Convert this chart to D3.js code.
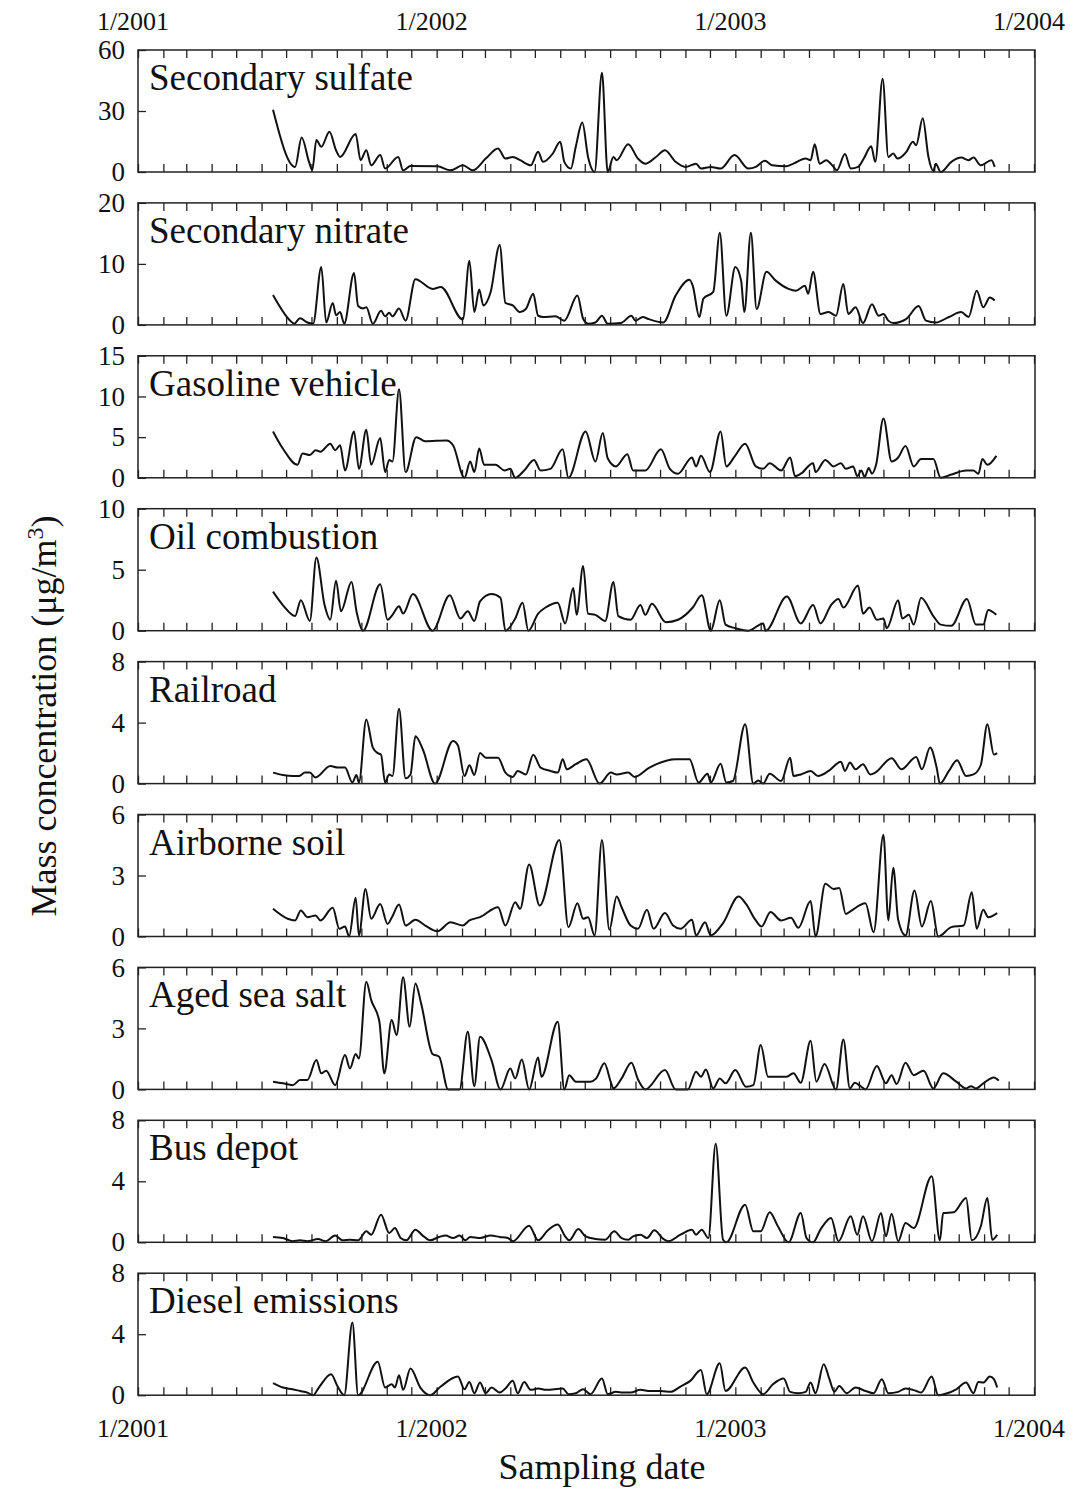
<!DOCTYPE html>
<html>
<head>
<meta charset="utf-8">
<script src="https://cdn.jsdelivr.net/npm/d3@7"></script>
<style>
  body { margin: 0; background: #fff; }
  text { font-family: "Liberation Serif", "Times New Roman", serif; fill: #111; }
</style>
</head>
<body>
<div id="root"></div>
<script>
// panel names and y-axis ticks (top to bottom)
let sourceNames = ["Secondary sulfate", "Secondary nitrate", "Gasoline vehicle", "Oil combustion",
  "Railroad", "Airborne soil", "Aged sea salt", "Bus depot", "Diesel emissions"];
let yTicks = [[0, 30, 60], [0, 10, 20], [0, 5, 10, 15], [0, 5, 10], [0, 4, 8],
  [0, 3, 6], [0, 3, 6], [0, 4, 8], [0, 4, 8]];

// samples: [days since 1/1/2001, concentration in ug/m3]
let sulfate = [[165,30.6],[192,2.5],[200,17],[209,5],[213,1],[218,15.7],[224,12.4],[234,19.8],[242,10.7],[247,7.4],[266,18.7],[272,5.8],[279,10.7],[285,3.3],[296,8.3],[302,1.7],[318,7.4],[324,0.8],[333,3],[366,2.8],[382,0.8],[397,3.3],[409,0.8],[425,6.6],[440,11.6],[449,6.6],[458,7.4],[467,5.8],[480,3.3],[489,9.9],[495,5],[507,9.1],[516,14.9],[521,5],[529,1.7],[535,12.4],[543,24.3],[550,7.4],[558,0],[567,48.8],[574,0],[581,7.4],[585,5.8],[599,13.7],[611,6.6],[620,4.1],[633,7.4],[644,10.7],[657,5],[669,2.5],[682,4.1],[688,1.7],[700,2.5],[712,1.7],[729,8.3],[746,1.7],[755,2.5],[766,5.5],[775,3.3],[792,2.8],[801,4.1],[816,6.6],[822,5.8],[827,13.6],[833,4.1],[841,5.8],[850,2.5],[854,0.8],[864,8.8],[871,1.7],[880,2.5],[887,6.6],[896,12.7],[901,5],[910,45.8],[917,7.4],[923,9.1],[928,6.6],[939,9.9],[947,14.9],[951,13.2],[959,26.4],[966,7.4],[972,0.5],[975,4.1],[981,0],[994,5],[1006,7.1],[1015,5.8],[1021,7.1],[1030,3.3],[1043,5.8],[1047,2.5]];

let nitrate = [[165,4.9],[186,0.7],[191,0.2],[198,1.1],[207,0.4],[214,0.2],[224,9.5],[230,0.4],[238,3.6],[242,1.6],[247,2.1],[252,0.2],[264,8.5],[269,3.1],[275,2.7],[279,2.9],[287,0.2],[297,2.3],[302,1.4],[307,2],[311,1.4],[319,2.7],[327,0.7],[339,7.5],[360,5.9],[370,6.2],[397,0.9],[405,10.5],[411,2.1],[417,5.8],[422,3.2],[431,5.4],[442,13.1],[449,3.6],[458,3.2],[467,2.1],[474,2.6],[483,5.1],[489,1.5],[495,1.3],[510,1.4],[521,0.7],[537,4.8],[544,1],[550,0.2],[559,0.4],[567,1.5],[574,0.2],[590,0.3],[603,1.5],[608,0.7],[617,1.3],[623,1],[642,0.4],[657,4.8],[674,7.4],[678,6.4],[686,1.3],[691,4.3],[703,5.4],[711,15.1],[719,1.5],[730,9.5],[737,7.3],[741,2.1],[749,15.1],[756,2.6],[768,8.7],[779,7.3],[795,5.9],[804,5.6],[815,6.4],[819,5.1],[825,8.7],[834,1.8],[844,2.1],[853,1.5],[862,6.7],[868,1.8],[877,2.9],[886,0.3],[897,3.4],[905,1.5],[911,1.8],[917,0.7],[923,0.3],[939,1],[954,3.1],[963,0.7],[975,0.4],[991,1.3],[1006,2.1],[1015,1.3],[1025,5.6],[1033,2.9],[1041,4.5],[1047,4]];

let gasoline = [[165,5.7],[177,3.6],[195,1.6],[201,3],[210,2.8],[217,3.4],[223,3.2],[235,4.2],[241,3.4],[247,4],[253,0.9],[264,5.7],[270,1.1],[279,5.9],[285,1.6],[296,4.9],[302,0.7],[307,2.2],[311,2],[319,10.9],[327,0.7],[340,5],[351,4.5],[377,4.6],[385,4],[399,0],[406,2],[411,0.7],[417,3.6],[423,1.6],[437,1.6],[448,0.9],[455,1.1],[461,0],[472,0.9],[484,2.2],[492,0.9],[504,1.1],[519,3.5],[526,0],[547,5.7],[559,2],[568,5.5],[574,2.4],[584,1.4],[598,2.9],[605,0.9],[620,0.9],[639,3.5],[650,1.1],[660,0.5],[677,2.5],[682,1.4],[688,2.7],[699,0.7],[712,5.7],[719,1.4],[729,2.6],[742,4.2],[755,1.4],[764,1.1],[772,1.8],[786,0.9],[797,2.5],[803,0.2],[810,0.5],[825,1.8],[828,0.7],[840,2.2],[850,1.4],[859,1.8],[865,1.1],[874,1.4],[879,0.2],[884,0.9],[888,0.1],[893,1.2],[897,0.5],[902,1.6],[911,7.3],[921,2],[929,2.5],[938,3.9],[948,1.4],[957,2.3],[966,2.3],[972,2.3],[981,0],[994,0.4],[1012,0.9],[1021,0.9],[1027,0.5],[1032,2.3],[1038,1.6],[1049,2.7]];

let oil = [[165,3.2],[177,2.1],[192,1.2],[199,2.5],[210,0.8],[218,6],[228,2.1],[235,0.9],[242,4.1],[248,1.6],[261,4],[267,1.6],[275,0],[296,3.8],[305,0.9],[311,1.3],[319,2],[324,1.4],[336,3],[360,0],[381,2.9],[394,1],[403,1.6],[411,0.8],[418,2.4],[432,3],[443,2.7],[449,0],[461,1],[470,2.3],[477,0],[489,1.4],[498,1.9],[513,2.3],[522,0.6],[532,3.5],[536,1.3],[544,5.3],[550,1.4],[559,1.3],[571,0.8],[581,4],[587,1.2],[602,0.9],[614,2.1],[620,1.3],[628,2.2],[645,0.7],[660,0.9],[678,1.9],[689,2.9],[700,0],[711,2.5],[718,0.5],[730,0.2],[746,0],[764,0.6],[767,0],[793,2.8],[810,0.6],[825,2.1],[834,0.6],[847,2.1],[856,2.6],[862,1.9],[880,3.7],[886,1.4],[894,1.9],[903,0.9],[911,1],[915,0.2],[929,2.5],[934,1],[942,1.3],[948,0.5],[957,2.7],[972,1.2],[981,0.5],[994,0.4],[1013,2.6],[1024,0.5],[1033,0.5],[1039,1.7],[1049,1.3]];

let railroad = [[165,0.72],[177,0.57],[189,0.5],[197,0.5],[204,0.72],[210,0.72],[217,0.4],[235,1.16],[244,1.05],[253,1.05],[262,0.07],[267,0.57],[270,0.07],[279,4.2],[287,2.36],[293,2],[297,1.9],[302,0.07],[307,0.6],[311,0.5],[319,4.9],[327,0.35],[333,0.6],[339,3.1],[348,2.25],[363,0],[385,2.8],[391,2.5],[399,0.5],[405,1.2],[411,0.57],[418,2],[425,1.7],[440,1.7],[449,0.72],[458,0.44],[464,0.83],[474,0.6],[483,1.9],[492,1.05],[504,0.83],[513,0.72],[519,1.6],[524,0.94],[535,1.27],[548,1.6],[564,0],[578,0.72],[585,0.6],[599,0.72],[607,0.44],[625,1.05],[657,1.6],[674,1.6],[685,0.07],[696,0.65],[700,0.07],[712,1.3],[719,0.07],[727,0.17],[742,3.9],[752,0],[758,0.2],[764,0],[772,0.65],[786,0.17],[797,1.7],[801,0.5],[810,0.6],[822,0.83],[831,0.5],[844,0.83],[859,1.44],[864,0.83],[870,1.38],[877,0.94],[886,1.27],[895,0.6],[901,0.72],[921,1.66],[933,0.94],[951,1.75],[958,0.94],[968,2.36],[976,1.05],[980,0],[991,0.83],[1001,1.53],[1012,0.5],[1021,0.6],[1030,1.22],[1038,3.9],[1046,1.9],[1050,2]];

let soil = [[165,1.36],[183,0.87],[192,0.79],[199,1.28],[207,0.95],[217,1.03],[223,0.79],[238,1.41],[246,0.38],[253,0.49],[258,0],[266,1.9],[270,0.05],[278,2.34],[285,0.87],[296,1.6],[305,0.62],[310,0.92],[319,1.57],[327,0.54],[339,0.82],[351,0.54],[366,0.26],[382,0.7],[397,0.54],[405,0.79],[418,0.95],[440,1.44],[449,0.54],[461,1.69],[467,1.36],[478,3.54],[491,1.52],[515,4.75],[526,0.46],[537,1.64],[544,0.87],[550,0.95],[558,0.05],[567,4.75],[576,0.33],[585,1.97],[591,1.44],[602,0.54],[611,0.38],[622,1.31],[630,0.38],[644,1.15],[654,0.54],[663,0.38],[677,0.82],[682,0.05],[693,0.7],[700,0.05],[715,0.66],[734,1.97],[743,1.6],[755,0.79],[762,0.49],[773,1.2],[786,0.79],[798,0.92],[807,0.43],[822,1.74],[828,0],[840,2.59],[850,2.34],[857,2.39],[865,1.11],[871,1.25],[889,1.64],[899,0.21],[911,5],[917,0.79],[923,3.38],[929,0.82],[938,0.05],[949,2.26],[958,0.49],[969,1.74],[978,0],[994,0.46],[1009,0.54],[1019,2.18],[1025,0.38],[1033,1.31],[1039,0.95],[1050,1.15]];

let seaSalt = [[165,0.38],[177,0.3],[189,0.21],[198,0.46],[207,0.46],[218,1.44],[224,0.79],[230,0.92],[241,0.21],[253,1.69],[259,1.03],[266,1.74],[270,1.52],[279,5.29],[285,4.39],[295,3.33],[301,0.79],[310,3.41],[316,2.67],[324,5.51],[332,3.08],[339,5.21],[346,4.23],[360,1.74],[368,1.61],[379,0],[393,0],[403,2.84],[411,0.16],[418,2.59],[432,1.44],[443,0],[455,1.03],[461,0.54],[469,1.47],[478,0],[489,1.57],[493,0.62],[513,3.33],[521,0],[527,0.7],[535,0.38],[553,0.38],[560,0.54],[570,1.28],[578,0.33],[581,0.05],[591,0.54],[603,1.31],[611,0.49],[620,0],[644,0.95],[657,0],[672,0],[682,0.87],[688,0.62],[694,0.98],[703,0.05],[711,0.54],[718,0.3],[730,0.95],[743,0.13],[752,0.21],[761,2.18],[770,0.62],[792,0.62],[801,0.79],[810,0.33],[822,2.39],[829,0.38],[839,1.25],[853,0],[862,2.46],[870,0.05],[876,0.33],[884,0.13],[889,0],[903,1.15],[914,0.3],[921,0.7],[927,0.26],[938,1.31],[948,0.7],[960,0.92],[972,0.05],[984,0.79],[1000,0.38],[1012,0.05],[1018,0.16],[1024,0.05],[1033,0.3],[1046,0.59],[1052,0.43]];

let busDepot = [[165,0.35],[177,0.28],[189,0.07],[198,0.13],[207,0.07],[220,0.22],[229,0.07],[241,0.44],[250,0.13],[259,0.17],[269,0.13],[279,0.72],[285,0.5],[297,1.81],[307,0.61],[314,0.94],[321,0.28],[328,0.13],[339,0.83],[348,0.44],[357,0.13],[368,0.35],[376,0.44],[385,0.28],[393,0.44],[400,0.13],[406,0.35],[418,0.28],[431,0.44],[442,0.35],[452,0.28],[458,0.07],[478,1.09],[489,0.13],[501,0.79],[513,1.16],[522,0.39],[527,0.13],[538,0.87],[547,0.39],[559,0.22],[571,0.17],[582,0.72],[591,0.28],[599,0.17],[605,0.39],[614,0.5],[622,0.28],[631,0.79],[642,0.22],[648,0.07],[663,0.5],[677,0.83],[682,0.5],[689,0.83],[697,0.28],[706,6.47],[715,0.17],[719,0],[742,2.47],[752,0.72],[761,0.72],[772,1.97],[782,1.05],[795,0],[810,1.92],[817,0.28],[825,0],[834,0.83],[847,1.6],[856,0.07],[871,1.71],[879,0.5],[886,1.71],[897,0.07],[908,1.92],[914,0.39],[921,1.88],[929,0.07],[938,1.27],[948,0.94],[970,4.33],[980,0.13],[984,1.92],[997,1.97],[1012,2.91],[1019,0.13],[1030,1.05],[1038,2.91],[1044,0.17],[1050,0.5]];

let diesel = [[165,0.79],[177,0.5],[189,0.39],[198,0.28],[207,0.17],[214,0],[221,0.5],[236,1.38],[244,0.57],[252,0],[262,4.77],[269,0],[293,2.19],[302,0.5],[310,0.72],[314,0.5],[319,1.31],[324,0.35],[333,1.75],[345,0.5],[357,0],[370,0.57],[391,1.22],[399,0.39],[405,0.87],[411,0.13],[418,0.83],[425,0.13],[432,0.5],[442,0.17],[449,0.44],[458,0.94],[464,0.13],[472,0.87],[480,0.35],[489,0.44],[499,0.35],[519,0.44],[526,0.07],[535,0.13],[544,0.39],[553,0.07],[567,1.09],[574,0.07],[584,0.22],[593,0.17],[602,0.17],[614,0.35],[626,0.28],[639,0.28],[651,0.22],[663,0.57],[675,0.94],[688,1.66],[695,0.07],[711,2.1],[718,0.28],[742,1.81],[752,0.83],[764,0.07],[776,0.72],[789,1.09],[797,0.22],[807,0.13],[816,0.22],[822,0.83],[828,0.13],[838,2.03],[845,1.05],[851,0.22],[857,0.61],[866,0.13],[877,0.5],[889,0.28],[899,0.13],[909,1.05],[917,0.13],[929,0.22],[938,0.44],[951,0.28],[957,0.17],[970,1.22],[978,0],[989,0.13],[1000,0.39],[1012,0.83],[1021,0.13],[1027,0.87],[1033,0.83],[1041,1.22],[1046,1.05],[1050,0.5]];

let series = [sulfate, nitrate, gasoline, oil, railroad, soil, seaSalt, busDepot, diesel];

// set the dimensions and margins of the graph
let margin = { top: 50, left: 138 },
  width = 897,
  panelHeight = 122,
  panelStep = 152.9;

let start = new Date(2001, 0, 1);
let dayToDate = (d) => d3.timeDay.offset(start, d);

let x = d3.scaleTime()
  .domain([start, new Date(2004, 0, 1)])
  .range([0, width - 1]);

let svg = d3.select("#root")
  .append("svg")
  .attr("width", 1075)
  .attr("height", 1495)
  .style("background", "#fff");

let months = d3.timeMonth.range(start, new Date(2004, 0, 2));
let years = d3.timeYear.range(start, new Date(2004, 0, 2));
let fmt = d3.timeFormat("%-m/%Y");

sourceNames.forEach((name, i) => {
  let g = svg.append("g")
    .attr("transform", "translate(" + margin.left + "," + (margin.top + i * panelStep) + ")");

  let ticks = yTicks[i];
  let y = d3.scaleLinear().domain([0, d3.max(ticks)]).range([panelHeight, 0]);

  // monthly inward ticks on top and bottom edges
  g.append("g")
    .call(d3.axisTop(x).tickValues(months).tickSize(-8).tickFormat(""))
    .call((a) => a.select(".domain").remove());
  g.append("g")
    .attr("transform", "translate(0," + panelHeight + ")")
    .call(d3.axisBottom(x).tickValues(months).tickSize(-8).tickFormat(""))
    .call((a) => a.select(".domain").remove());

  // y axis
  g.append("g")
    .call(d3.axisLeft(y).tickValues(ticks).tickSize(-8).tickPadding(13).tickFormat(d3.format("d")))
    .call((a) => a.select(".domain").remove())
    .selectAll("text")
    .style("font-size", "27px");

  g.selectAll(".tick line").attr("stroke", "#222").attr("stroke-width", 1.3);

  // the line
  let line = d3.line()
    .x((d) => x(dayToDate(d[0])))
    .y((d) => y(d[1]))
    .curve(d3.curveMonotoneX);

  g.append("path")
    .datum(series[i])
    .attr("fill", "none")
    .attr("stroke", "#111")
    .attr("stroke-width", 2)
    .attr("stroke-linejoin", "round")
    .attr("d", line);

  // frame
  g.append("rect")
    .attr("width", width)
    .attr("height", panelHeight)
    .attr("fill", "none")
    .attr("stroke", "#222")
    .attr("stroke-width", 1.5);

  g.append("text")
    .attr("x", 11)
    .attr("y", 40)
    .style("font-size", "37px")
    .text(name);

  // year labels above first panel and below last one
  if (i === 0 || i === sourceNames.length - 1) {
    g.selectAll(".yearLabel")
      .data(years)
      .enter()
      .append("text")
      .attr("x", (d) => x(d) - 5)
      .attr("y", i === 0 ? -20 : panelHeight + 42)
      .attr("text-anchor", "middle")
      .style("font-size", "26px")
      .text((d) => fmt(d));
  }
});

// axis titles
svg.append("text")
  .attr("x", 602)
  .attr("y", 1479)
  .attr("text-anchor", "middle")
  .style("font-size", "36px")
  .text("Sampling date");

let yTitle = svg.append("text")
  .attr("transform", "translate(56,716) rotate(-90)")
  .attr("text-anchor", "middle")
  .style("font-size", "36px");
yTitle.append("tspan").text("Mass concentration (\u03bcg/m");
yTitle.append("tspan").attr("baseline-shift", "super").style("font-size", "24px").text("3");
yTitle.append("tspan").text(")");
</script>
</body>
</html>
